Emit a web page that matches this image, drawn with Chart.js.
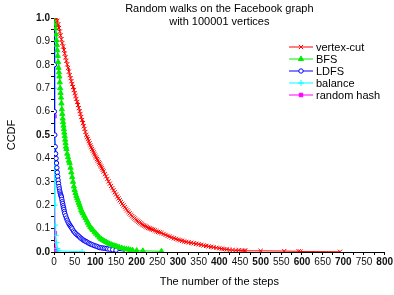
<!DOCTYPE html>
<html>
<head>
<meta charset="utf-8">
<script src="https://cdn.jsdelivr.net/npm/chart.js@4.4.1/dist/chart.umd.min.js"></script>
<style>
  html, body { margin: 0; padding: 0; background: #fff; }
</style>
</head>
<body>
<canvas id="myChart" width="394" height="295"></canvas>
<script>
// values (steps, CCDF)
const vertexCutSteps = [6, 8, 10, 12, 14, 16, 18, 20, 22, 24, 26, 28, 30, 32, 34, 36, 38, 40, 42, 44, 46, 48, 50, 52, 54, 56, 58, 60, 62, 64, 66, 68, 70, 72, 74, 76, 78,
  80, 82, 84, 86, 88, 90, 92, 94, 96, 98, 100, 102, 104, 106, 108, 110, 112, 114, 116, 118, 120,
  123, 126, 129, 132, 135, 138, 141, 144, 147, 150, 153, 156, 159, 162, 165, 168, 171, 174, 177, 180, 183,
  186, 189, 192, 195, 198, 201, 204, 207, 210, 213, 216, 219, 222, 225, 228, 231, 234, 237, 240,
  244, 248, 252, 256, 260,
  265, 270, 275, 280, 285, 290, 295, 300, 305, 310, 315, 320,
  326, 332, 338, 344, 350, 356, 362, 368, 374, 380, 386,
  393, 400, 406, 412, 418, 425, 432, 440, 447, 455, 460, 463, 500, 557, 592, 596, 692];
const vertexCutCcdf = [1.000, 0.988, 0.972, 0.957, 0.942, 0.925, 0.909, 0.893, 0.878, 0.863, 0.848, 0.832, 0.817, 0.802, 0.787, 0.771, 0.756, 0.743, 0.730, 0.718, 0.705, 0.692, 0.679, 0.667, 0.654, 0.641, 0.628, 0.615, 0.602, 0.590, 0.577, 0.564, 0.551, 0.538, 0.526, 0.513, 0.500,
  0.491, 0.483, 0.474, 0.465, 0.456, 0.448, 0.440, 0.433, 0.425, 0.418, 0.410, 0.404, 0.397, 0.391, 0.384, 0.378, 0.371, 0.365, 0.358, 0.351, 0.344,
  0.333, 0.323, 0.312, 0.302, 0.292, 0.282, 0.273, 0.264, 0.255, 0.246, 0.237, 0.229, 0.221, 0.214, 0.206, 0.199, 0.192, 0.185, 0.178, 0.171, 0.165,
  0.159, 0.153, 0.148, 0.143, 0.138, 0.134, 0.130, 0.126, 0.122, 0.118, 0.115, 0.112, 0.109, 0.106, 0.103, 0.101, 0.099, 0.097, 0.095,
  0.092, 0.089, 0.086, 0.084, 0.081,
  0.077, 0.073, 0.069, 0.066, 0.062, 0.059, 0.056, 0.053, 0.050, 0.048, 0.045, 0.043,
  0.041, 0.039, 0.037, 0.035, 0.033, 0.031, 0.028, 0.026, 0.024, 0.022, 0.020,
  0.018, 0.016, 0.014, 0.012, 0.011, 0.009, 0.008, 0.007, 0.007, 0.006, 0.006, 0.005, 0.005, 0.004, 0.003, 0.002, 0.001];

const bfsSteps = [2, 3, 4, 5, 6, 7, 8, 9, 10, 11, 12, 13, 14, 15, 16, 17, 18, 19, 20, 21, 22, 23, 24, 25, 26, 27, 28, 29, 30, 32, 34, 36, 38, 40, 42, 44, 46, 48, 50, 52, 54, 56, 58, 60, 62, 64, 66, 68, 70, 73, 76, 79, 82, 85, 88, 91, 94, 98, 102, 106, 110, 114, 118, 122, 126, 130, 134, 138, 142, 146, 150, 154, 158, 164, 170, 175, 180, 185, 190, 200, 215, 260];
const bfsCcdf = [1.0, 0.975, 0.955, 0.93, 0.905, 0.885, 0.862, 0.838, 0.812, 0.787, 0.768, 0.75, 0.725, 0.70, 0.68, 0.66, 0.635, 0.61, 0.59, 0.57, 0.555, 0.54, 0.525, 0.51, 0.495, 0.48, 0.465, 0.45, 0.44, 0.42, 0.405, 0.39, 0.38, 0.36, 0.34, 0.32, 0.30, 0.28, 0.265, 0.252, 0.24, 0.23, 0.22, 0.21, 0.20, 0.19, 0.18, 0.172, 0.165, 0.155, 0.145, 0.135, 0.125, 0.115, 0.107, 0.10, 0.094, 0.086, 0.078, 0.07, 0.062, 0.056, 0.051, 0.047, 0.043, 0.039, 0.035, 0.032, 0.029, 0.027, 0.025, 0.022, 0.02, 0.017, 0.014, 0.012, 0.011, 0.009, 0.008, 0.006, 0.005, 0.003];

const ldfsSteps = [0, 1, 1, 2, 3, 4, 5, 6, 7, 8, 9, 10, 11, 12, 13, 14, 15, 16, 17, 18, 19, 20, 21, 22, 23, 24, 25, 26, 28, 30, 32, 34, 36, 38, 40, 42, 44, 47, 50, 53, 56, 59, 62, 65, 68, 71, 74, 77, 80, 84, 87, 90, 94, 98, 102, 106, 110, 114, 118, 122, 126, 130, 135, 142, 150, 175];
const ldfsCcdf = [1.0, 0.8, 0.6, 0.5, 0.45, 0.42, 0.40, 0.38, 0.36, 0.34, 0.323, 0.307, 0.293, 0.28, 0.27, 0.26, 0.252, 0.245, 0.24, 0.235, 0.225, 0.215, 0.207, 0.198, 0.19, 0.182, 0.173, 0.165, 0.155, 0.145, 0.136, 0.128, 0.121, 0.115, 0.11, 0.105, 0.099, 0.09, 0.084, 0.078, 0.073, 0.069, 0.064, 0.059, 0.055, 0.051, 0.048, 0.045, 0.042, 0.038, 0.035, 0.033, 0.03, 0.027, 0.025, 0.022, 0.019, 0.018, 0.017, 0.016, 0.015, 0.013, 0.012, 0.01, 0.008, 0.003];

const balanceSteps = [0, 1, 2, 2, 3, 4, 6, 8, 10, 68];
const balanceCcdf = [1.0, 0.7, 0.4, 0.2, 0.115, 0.07, 0.04, 0.015, 0.005, 0.001];

const hashSteps = [0, 1, 2, 3, 4];
const hashCcdf = [1.0, 0.58, 0.08, 0.01, 0.002];

const seriesNames = ["vertex-cut", "BFS", "LDFS", "balance", "random hash"];
const xTicks = [0, 800, 25];   // min, max, step
const yTicks = [0, 1, 0.05];

const FONT = "'Liberation Sans', Arial, sans-serif";

function toPoints(xs, ys) {
  return xs.map((x, i) => ({ x: x, y: ys[i] }));
}

const datasets = [
  { label: seriesNames[0], data: toPoints(vertexCutSteps, vertexCutCcdf), borderColor: "#ff0000", backgroundColor: "#ff0000", pointStyle: "crossRot", pointRadius: 3 },
  { label: seriesNames[1], data: toPoints(bfsSteps, bfsCcdf), borderColor: "#00ee00", backgroundColor: "#00ee00", pointStyle: "triangle", pointRadius: 3 },
  { label: seriesNames[2], data: toPoints(ldfsSteps, ldfsCcdf), borderColor: "#0000ff", backgroundColor: "#ffffff", pointStyle: "circle", pointRadius: 2.2 },
  { label: seriesNames[3], data: toPoints(balanceSteps, balanceCcdf), borderColor: "#00ffff", backgroundColor: "#00ffff", pointStyle: "cross", pointRadius: 3 },
  { label: seriesNames[4], data: toPoints(hashSteps, hashCcdf), borderColor: "#ff00ff", backgroundColor: "#ff00ff", pointStyle: "rect", pointRadius: 2.5 },
];
datasets.forEach(d => {
  d.showLine = true;
  d.borderWidth = 1;
  d.pointBorderWidth = 1;
  d.fill = false;
});

// title + legend drawn inside the plot, like the original
const overlayText = {
  id: "overlayText",
  afterDraw(chart) {
    const ctx = chart.ctx;
    const area = chart.chartArea;
    ctx.save();
    ctx.fillStyle = "#000";
    ctx.font = "11px " + FONT;
    ctx.textAlign = "center";
    ctx.textBaseline = "middle";
    const cx = (area.left + area.right) / 2;
    ctx.fillText("Random walks on the Facebook graph", cx, 9);
    ctx.fillText("with 100001 vertices", cx, 22);

    ctx.textAlign = "left";
    chart.data.datasets.forEach((ds, i) => {
      const y = 47 + i * 12;
      ctx.strokeStyle = ds.borderColor;
      ctx.lineWidth = 1;
      ctx.beginPath();
      ctx.moveTo(289, y);
      ctx.lineTo(313, y);
      ctx.stroke();
      ctx.fillStyle = ds.backgroundColor;
      Chart.helpers.drawPoint(ctx, {
        pointStyle: ds.pointStyle,
        radius: ds.pointRadius,
        borderWidth: 1,
      }, 301, y);
      ctx.fillStyle = "#000";
      ctx.fillText(ds.label, 316, y + 0.5);
    });
    ctx.restore();
  }
};

const ctx = document.getElementById("myChart").getContext("2d");
new Chart(ctx, {
  type: "scatter",
  data: { datasets: datasets },
  options: {
    responsive: false,
    animation: false,
    layout: { padding: { top: 18, right: 6, left: 0, bottom: 0 } },
    plugins: {
      legend: { display: false },
      tooltip: { enabled: false },
    },
    scales: {
      x: {
        type: "linear",
        min: xTicks[0],
        max: xTicks[1],
        afterFit: s => { s.height = 43; },
        border: { color: "#000", width: 1 },
        grid: { drawOnChartArea: false, drawTicks: true, tickLength: 3, color: "#000" },
        ticks: {
          stepSize: xTicks[2],
          autoSkip: false,
          maxRotation: 0,
          padding: 1,
          color: "#111",
          font: c => ({ family: FONT, size: 10, weight: (c.tick && c.tick.value > 0 && c.tick.value % 100 === 0) ? "bold" : "normal" }),
          callback: v => (v % 50 === 0 ? String(v) : ""),
        },
        title: {
          display: true,
          text: "The number of the steps",
          color: "#000",
          font: { family: FONT, size: 11 },
          padding: { top: 0, bottom: 6 },
        },
      },
      y: {
        type: "linear",
        min: yTicks[0],
        max: yTicks[1],
        afterFit: s => { s.width = 54; },
        border: { color: "#000", width: 1 },
        grid: { drawOnChartArea: false, drawTicks: true, tickLength: 3, color: "#000" },
        ticks: {
          stepSize: yTicks[2],
          autoSkip: false,
          padding: 1,
          color: "#111",
          font: c => {
            const k = c.tick ? Math.round(c.tick.value * 100) : 1;
            return { family: FONT, size: 10, weight: (k % 50 === 0) ? "bold" : "normal" };
          },
          callback: v => (Math.round(v * 100) % 10 === 0 ? v.toFixed(1) : ""),
        },
        title: {
          display: true,
          text: "CCDF",
          color: "#000",
          font: { family: FONT, size: 11 },
          padding: { top: 5, bottom: 0 },
        },
      },
    },
  },
  plugins: [overlayText],
});
</script>
</body>
</html>
